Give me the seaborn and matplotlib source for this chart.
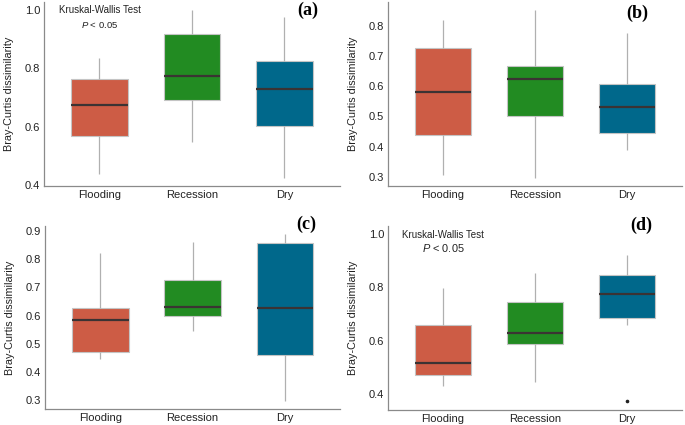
import matplotlib
matplotlib.use("Agg")
import matplotlib.pyplot as plt
import seaborn as sns
import pandas as pd

seasons = ["Flooding", "Recession", "Dry"]
colors = ["#CD5C45", "#228B22", "#00688B"]

# box summaries: lower whisker, Q1, median, Q3, upper whisker
a_low = [0.438, 0.546, 0.426]
a_q1 = [0.569, 0.693, 0.603]
a_med = [0.673, 0.773, 0.728]
a_q3 = [0.762, 0.919, 0.824]
a_high = [0.834, 1.000, 0.975]

b_low = [0.307, 0.298, 0.390]
b_q1 = [0.437, 0.500, 0.445]
b_med = [0.580, 0.625, 0.530]
b_q3 = [0.725, 0.668, 0.608]
b_high = [0.817, 0.850, 0.777]

c_low = [0.445, 0.545, 0.298]
c_q1 = [0.472, 0.598, 0.460]
c_med = [0.584, 0.630, 0.628]
c_q3 = [0.629, 0.728, 0.859]
c_high = [0.823, 0.862, 0.888]

d_low = [0.431, 0.443, 0.660]
d_q1 = [0.472, 0.586, 0.686]
d_med = [0.517, 0.627, 0.777]
d_q3 = [0.659, 0.745, 0.847]
d_high = [0.798, 0.853, 0.923]
d_outliers = [[], [], [0.371]]

a_ticks = [0.4, 0.6, 0.8, 1.0]
b_ticks = [0.3, 0.4, 0.5, 0.6, 0.7, 0.8]
c_ticks = [0.3, 0.4, 0.5, 0.6, 0.7, 0.8, 0.9]
d_ticks = [0.4, 0.6, 0.8, 1.0]


def make_frame(low, q1, med, q3, high, outliers=None):
    # 9 points per group so the quartiles land exactly on the read values
    rows = []
    for i, s in enumerate(seasons):
        out = outliers[i] if outliers else []
        first = out[0] if out else low[i]
        vals = [first, low[i], q1[i], q1[i], med[i], q3[i], q3[i], high[i], high[i]]
        rows += [(s, v) for v in vals]
    return pd.DataFrame(rows, columns=["season", "value"])


sns.set_style("white")
plt.rcParams["font.family"] = ["Liberation Sans", "DejaVu Sans"]
plt.rcParams["mathtext.fontset"] = "custom"
plt.rcParams["mathtext.it"] = "Liberation Sans:italic"
plt.rcParams["mathtext.rm"] = "Liberation Sans"

fig = plt.figure(figsize=(6.85, 4.25), dpi=100)
positions = [
    [0.0642, 0.5624, 0.432, 0.434],
    [0.5664, 0.5624, 0.429, 0.433],
    [0.0657, 0.0370, 0.431, 0.431],
    [0.5664, 0.0360, 0.429, 0.432],
]
frames = [
    make_frame(a_low, a_q1, a_med, a_q3, a_high),
    make_frame(b_low, b_q1, b_med, b_q3, b_high),
    make_frame(c_low, c_q1, c_med, c_q3, c_high),
    make_frame(d_low, d_q1, d_med, d_q3, d_high, d_outliers),
]
ylims = [(0.397, 1.029), (0.270, 0.878), (0.2685, 0.9175), (0.340, 1.031)]
ticks = [a_ticks, b_ticks, c_ticks, d_ticks]
letters = ["(a)", "(b)", "(c)", "(d)"]
letter_xy = [(308, 10), (637, 13), (306, 224), (641, 225)]

for k in range(4):
    ax = fig.add_axes(positions[k])
    sns.boxplot(data=frames[k], x="season", y="value", hue="season",
                palette=colors, saturation=1, width=0.61, showcaps=False, ax=ax,
                legend=False,
                boxprops=dict(edgecolor="#c4c4c4", linewidth=0.8),
                whiskerprops=dict(color="#b0b0b0", linewidth=0.9),
                medianprops=dict(color="#3b3333", linewidth=1.6),
                flierprops=dict(marker="o", markersize=1.6,
                                markerfacecolor="#222222", markeredgecolor="#222222"))
    ax.set_xlim(-0.6, 2.6)
    ax.set_ylim(*ylims[k])
    ax.set_yticks(ticks[k])
    ax.set_yticklabels([f"{t:.1f}" for t in ticks[k]])
    ax.set_xlabel("")
    ax.set_ylabel("Bray-Curtis dissimilarity", fontsize=7.8, color="#222222", labelpad=8)
    ax.tick_params(axis="both", labelsize=8, colors="#222222", length=1.5, width=0.6,
                   pad=1.3)
    ax.tick_params(axis="both", color="#888888")
    for side in ["top", "right"]:
        ax.spines[side].set_visible(False)
    for side in ["left", "bottom"]:
        ax.spines[side].set_color("#8a8a8a")
        ax.spines[side].set_linewidth(0.9)
    lx, ly = letter_xy[k]
    fig.text(lx / 685, 1 - ly / 425, letters[k], fontsize=13, fontweight="bold",
             family="Liberation Serif", ha="center", va="center", color="black")

axes = fig.axes
axes[0].text(0, 1.0, "Kruskal-Wallis Test", fontsize=7.0, ha="center", va="center",
             color="#222222")
axes[0].text(0, 0.949, r"$P$ < 0.05", fontsize=6.8, ha="center", va="center",
             color="#222222")
axes[3].text(0, 0.997, "Kruskal-Wallis Test", fontsize=7.0, ha="center", va="center",
             color="#222222")
axes[3].text(0, 0.950, r"$P$ < 0.05", fontsize=7.9, ha="center", va="center",
             color="#222222")

fig.savefig("out.png", dpi=100)
